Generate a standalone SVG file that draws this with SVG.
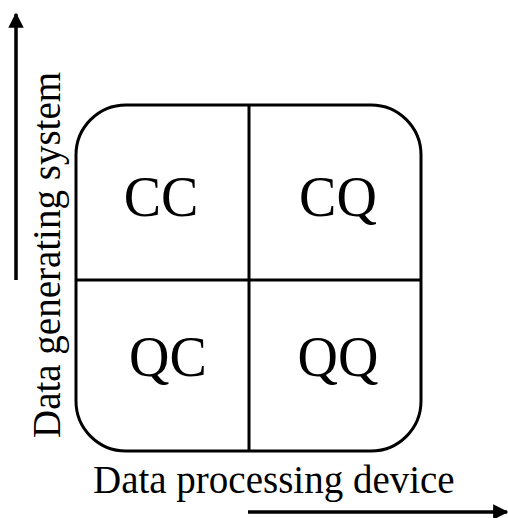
<svg xmlns="http://www.w3.org/2000/svg" width="508" height="518" viewBox="0 0 508 518">
  <style>
    .frame { fill: none; stroke: #000; stroke-width: 3; }
    .axis { fill: none; stroke: #000; stroke-width: 3.5; }
    .cell { font-family: "Liberation Serif", "Times New Roman", serif; font-size: 56px; fill: #000; text-anchor: middle; }
    .axis-label { font-family: "Liberation Serif", "Times New Roman", serif; font-size: 39px; fill: #000; }
  </style>
  <defs>
    <marker id="head" viewBox="0 0 10 10" refX="9" refY="5" markerWidth="4.4" markerHeight="4.4" orient="auto" markerUnits="strokeWidth">
      <path d="M0,0 L10,5 L0,10 Z" fill="#000"/>
    </marker>
  </defs>

  <!-- axes -->
  <g id="connectors">
    <line class="axis" x1="16" y1="280" x2="16" y2="14" marker-end="url(#head)"/>
    <line class="axis" x1="248" y1="512" x2="507" y2="512" marker-end="url(#head)"/>
  </g>

  <!-- outer rounded frame with quadrant dividers -->
  <g id="grid">
    <rect class="frame" x="76" y="105" width="345" height="346" rx="50" ry="50"/>
    <line class="frame" x1="249" y1="105" x2="249" y2="451"/>
    <line class="frame" x1="76" y1="280" x2="421" y2="280"/>
  </g>

  <g id="cc"><text class="cell" x="161" y="216">CC</text></g>
  <g id="cq"><text class="cell" x="338" y="216">CQ</text></g>
  <g id="qc"><text class="cell" x="168" y="376">QC</text></g>
  <g id="qq"><text class="cell" x="338" y="376">QQ</text></g>

  <g id="y-label">
    <text class="axis-label" transform="translate(60,438) rotate(-90)">Data generating system</text>
  </g>
  <g id="x-label">
    <text class="axis-label" x="93" y="493">Data processing device</text>
  </g>
</svg>
